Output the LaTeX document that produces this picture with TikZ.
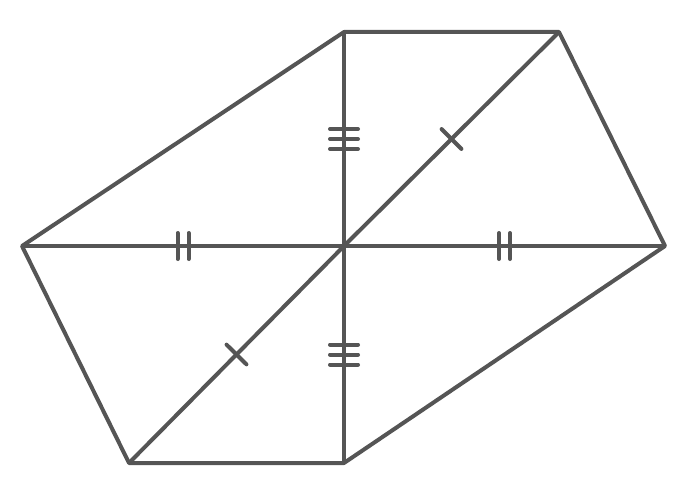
\documentclass[tikz,border=0pt]{standalone}
\usetikzlibrary{decorations.markings}
\definecolor{linegray}{HTML}{555555}
\tikzset{
  tickline/.style={draw=linegray,line width=4pt,line cap=round},
  onetick/.style={postaction={decorate},decoration={markings,
    mark=at position .5 with {\draw[tickline] (0,-14pt) -- (0,14pt);}}},
  twotick/.style={postaction={decorate},decoration={markings,
    mark=at position .5 with {\draw[tickline] (-5.5pt,-13pt) -- (-5.5pt,13pt) (5.5pt,-13pt) -- (5.5pt,13pt);}}},
  threetick/.style={postaction={decorate},decoration={markings,
    mark=at position .5 with {\draw[tickline] (-10pt,-14pt) -- (-10pt,14pt) (0,-14pt) -- (0,14pt) (10pt,-14pt) -- (10pt,14pt);}}}
}
\begin{document}
\begin{tikzpicture}
  [x=1pt,y=-1pt,every path/.style={draw=linegray,line width=4pt}]
  \useasboundingbox[draw=none] (0,0) rectangle (684,500);
  \coordinate (O) at (344,246);
  \coordinate (L) at (22,246);
  \coordinate (R) at (665,246);
  \coordinate (T) at (344,32);
  \coordinate (TR) at (559,32);
  \coordinate (B) at (344,463);
  \coordinate (BL) at (129,463);

  \draw[line join=round] (L) -- (T) -- (TR) -- (R) -- (B) -- (BL) -- cycle;

  \path
    (L) edge [twotick] (O)
    (O) edge [twotick] (R)
    (T) edge [threetick] (O)
    (O) edge [threetick] (B)
    (TR) edge [onetick] (O)
    (O) edge [onetick] (BL)
    ;
\end{tikzpicture}
\end{document}
